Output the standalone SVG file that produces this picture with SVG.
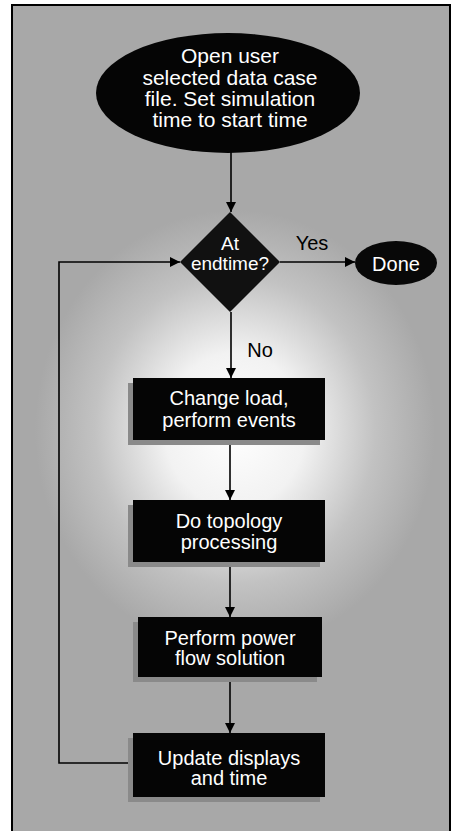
<svg xmlns="http://www.w3.org/2000/svg" width="462" height="831" viewBox="0 0 462 831">
<defs>
<radialGradient id="glow" cx="235" cy="430" r="200" gradientUnits="userSpaceOnUse" gradientTransform="translate(235 430) scale(1 1.1) translate(-235 -430)">
<stop offset="0" stop-color="#ffffff"/>
<stop offset="0.35" stop-color="#f2f2f2"/>
<stop offset="0.7" stop-color="#c2c2c2"/>
<stop offset="1" stop-color="#a8a8a8"/>
</radialGradient>
<marker id="arr" viewBox="0 0 10 10" refX="10" refY="5" markerWidth="10" markerHeight="10" markerUnits="userSpaceOnUse" orient="auto">
<path d="M0,0 L10,5 L0,10 Z" fill="#000"/>
</marker>
</defs>
<style>
.wt{font-family:"Liberation Sans",Arial,sans-serif;fill:#fff;text-anchor:middle}
.bt{font-family:"Liberation Sans",Arial,sans-serif;fill:#000;text-anchor:middle;font-size:20px}
.box{fill:#050505}
.sh{fill:#8a8a8a}
.ln{stroke:#000;stroke-width:1.6;fill:none}
</style>
<rect x="0" y="0" width="462" height="831" fill="#fff"/>
<rect x="12" y="5" width="438" height="830" fill="#a8a8a8"/>
<rect x="12" y="5" width="438" height="830" fill="url(#glow)"/>
<rect x="12" y="5" width="438" height="830" fill="none" stroke="#000" stroke-width="2"/>

<g id="connectors">
<line class="ln" x1="231" y1="152" x2="231" y2="212" marker-end="url(#arr)"/>
<line class="ln" x1="280" y1="262" x2="355" y2="262" marker-end="url(#arr)"/>
<line class="ln" x1="231" y1="312" x2="231" y2="378" marker-end="url(#arr)"/>
<line class="ln" x1="230" y1="440" x2="230" y2="500" marker-end="url(#arr)"/>
<line class="ln" x1="230" y1="562" x2="230" y2="617" marker-end="url(#arr)"/>
<line class="ln" x1="230" y1="677" x2="230" y2="733" marker-end="url(#arr)"/>
<polyline class="ln" points="133,763 59,763 59,262 180,262" marker-end="url(#arr)"/>
<text class="bt" x="312" y="250">Yes</text>
<text class="bt" x="260" y="357">No</text>
</g>

<g id="start">
<ellipse cx="228" cy="93" rx="132" ry="60" fill="#050505"/>
<text class="wt" font-size="21"><tspan x="230" y="63">Open user</tspan><tspan x="230" y="85">selected data case</tspan><tspan x="230" y="106">file. Set simulation</tspan><tspan x="230" y="127">time to start time</tspan></text>
</g>

<g id="decision">
<polygon points="230,212 280,262 230,312 180,262" fill="#111"/>
<text class="wt" font-size="19"><tspan x="230" y="250">At</tspan><tspan x="230" y="270">endtime?</tspan></text>
</g>

<g id="done">
<ellipse cx="396" cy="263" rx="41" ry="22" fill="#080808"/>
<text class="wt" font-size="20" x="396" y="271">Done</text>
</g>

<g id="change">
<rect class="sh" x="128" y="383" width="192" height="62"/>
<rect class="box" x="133" y="378" width="192" height="62"/>
<text class="wt" font-size="20"><tspan x="229" y="405">Change load,</tspan><tspan x="229" y="427">perform events</tspan></text>
</g>

<g id="topology">
<rect class="sh" x="128" y="505" width="192" height="62"/>
<rect class="box" x="133" y="500" width="192" height="62"/>
<text class="wt" font-size="20"><tspan x="229" y="528">Do topology</tspan><tspan x="229" y="549">processing</tspan></text>
</g>

<g id="powerflow">
<rect class="sh" x="133" y="622" width="184" height="60"/>
<rect class="box" x="138" y="617" width="184" height="60"/>
<text class="wt" font-size="20"><tspan x="230" y="645">Perform power</tspan><tspan x="230" y="665">flow solution</tspan></text>
</g>

<g id="update">
<rect class="sh" x="128" y="738" width="192" height="64"/>
<rect class="box" x="133" y="733" width="192" height="64"/>
<text class="wt" font-size="20"><tspan x="229" y="765">Update displays</tspan><tspan x="229" y="785">and time</tspan></text>
</g>
</svg>
